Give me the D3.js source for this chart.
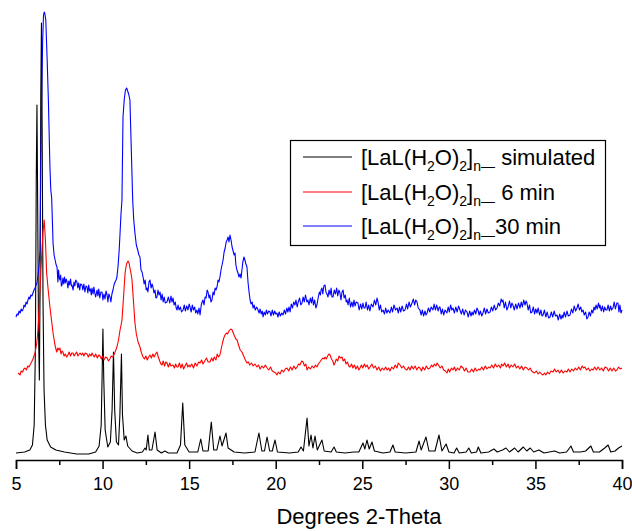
<!DOCTYPE html>
<html>
<head>
<meta charset="utf-8">
<script src="https://cdn.jsdelivr.net/npm/d3@7"></script>
<style>
  html, body { margin: 0; padding: 0; background: #fff; }
  svg { display: block; font-family: "Liberation Sans", Arial, sans-serif; }
</style>
</head>
<body>
<svg id="chart" width="632" height="531"></svg>
<script>
// ---- Data (2-theta in degrees, intensity in arbitrary units) ----
const xTicks = [5, 10, 15, 20, 25, 30, 35, 40];
const xMinorTicks = [7.5, 12.5, 17.5, 22.5, 27.5, 32.5, 37.5];
const xTitle = "Degrees 2-Theta";
const seriesNames = ["simulated", "6 min", "30 min"];
const seriesSuffix = [" simulated", " 6 min", "30 min"];
const seriesColors = ["#000000", "#ff0000", "#0000ff"];

const simulated = [[5.0,7],[5.5,8],[5.8,10],[5.95,15],[6.05,35],[6.12,110],[6.17,280],[6.21,355],[6.25,260],[6.3,130],[6.35,80],[6.39,170],[6.43,360],[6.47,437],[6.51,330],[6.56,160],[6.62,70],[6.7,35],[6.8,20],[7.0,13],[7.3,10],[7.8,8],[8.5,6],[9.2,6],[9.6,8],[9.8,14],[9.92,35],[9.98,90],[10.02,131],[10.07,80],[10.15,30],[10.3,13],[10.45,18],[10.55,50],[10.63,108],[10.7,50],[10.8,18],[10.92,15],[11.0,45],[11.09,106],[11.15,45],[11.25,20],[11.35,24],[11.45,14],[11.7,9],[12.0,7],[12.3,8],[12.45,12],[12.52,10],[12.62,25],[12.7,10],[12.85,10],[13.03,28],[13.15,10],[13.4,7],[13.6,9],[13.8,7],[14.3,7],[14.5,15],[14.63,57],[14.75,15],[15.0,8],[15.5,8],[15.67,21],[15.8,9],[16.1,9],[16.28,38],[16.42,10],[16.6,10],[16.78,24],[16.9,14],[17.13,27],[17.25,12],[17.6,8],[18.2,7],[18.8,8],[19.03,27],[19.2,9],[19.35,9],[19.5,23],[19.65,9],[19.8,9],[19.96,20],[20.1,8],[20.8,7],[21.3,8],[21.46,13],[21.6,9],[21.81,42],[21.92,14],[22.04,25],[22.15,12],[22.27,24],[22.4,10],[22.67,20],[22.8,9],[23.2,8],[23.37,13],[23.5,8],[24.0,7],[24.5,8],[24.8,8],[25.04,17],[25.15,11],[25.27,20],[25.4,11],[25.56,18],[25.7,9],[26.2,7],[26.6,8],[26.77,15],[26.9,8],[27.5,7],[28.1,8],[28.28,19],[28.4,10],[28.68,23],[28.85,9],[29.2,9],[29.43,25],[29.6,9],[29.84,16],[30.0,8],[30.3,7],[30.45,12],[30.6,7],[31.0,8],[31.15,12],[31.3,7],[31.6,8],[31.7,13],[31.85,7],[32.3,8],[32.6,11],[32.8,8],[33.1,10],[33.3,12],[33.5,8],[33.8,12],[34.0,8],[34.3,13],[34.5,9],[34.7,12],[34.9,8],[35.2,10],[35.5,7],[35.8,8],[36.1,9],[36.4,7],[36.8,8],[37.05,14],[37.2,8],[37.6,8],[37.9,9],[38.2,14],[38.35,8],[38.7,8],[39.0,12],[39.2,15],[39.35,8],[39.6,9],[39.8,12],[40.0,14]];

const min6 = [[5.12,87],[5.18,86],[5.23,85],[5.3,89],[5.38,88],[5.45,91],[5.52,92],[5.6,90],[5.68,94],[5.75,93],[5.81,95],[5.9,98],[5.98,101],[6.04,104],[6.1,107],[6.2,117],[6.27,130],[6.33,150],[6.39,172],[6.44,190],[6.5,210],[6.56,228],[6.63,240],[6.7,220],[6.77,187],[6.86,170],[6.96,153],[7.05,140],[7.14,127],[7.25,115],[7.35,108],[7.42,112],[7.48,110],[7.54,112],[7.6,106],[7.66,109],[7.71,108],[7.78,104],[7.85,106],[7.93,103],[8.0,105],[8.07,108],[8.15,104],[8.22,107],[8.29,107],[8.36,104],[8.43,106],[8.5,108],[8.58,104],[8.65,106],[8.7,107],[8.78,105],[8.85,107],[8.92,104],[9.0,107],[9.1,106],[9.18,103],[9.25,106],[9.33,104],[9.39,107],[9.45,105],[9.52,103],[9.6,106],[9.7,102],[9.78,105],[9.85,104],[9.93,101],[10.0,104],[10.08,100],[10.17,103],[10.26,102],[10.34,99],[10.42,101],[10.5,104],[10.6,103],[10.7,107],[10.83,113],[10.92,120],[11.01,130],[11.08,136],[11.12,140],[11.2,160],[11.3,187],[11.38,196],[11.47,199],[11.53,197],[11.58,192],[11.64,187],[11.7,180],[11.78,160],[11.87,137],[11.95,126],[12.05,118],[12.16,113],[12.25,107],[12.34,103],[12.42,101],[12.5,104],[12.58,100],[12.66,103],[12.74,105],[12.82,102],[12.9,106],[12.98,103],[13.06,106],[13.14,108],[13.22,103],[13.3,99],[13.37,96],[13.43,95],[13.5,99],[13.58,94],[13.65,98],[13.72,97],[13.8,93],[13.88,97],[13.95,94],[14.07,95],[14.15,92],[14.22,96],[14.3,93],[14.36,93],[14.44,97],[14.52,92],[14.6,96],[14.68,91],[14.76,94],[14.85,97],[14.92,93],[15.0,95],[15.05,93],[15.15,96],[15.25,92],[15.35,97],[15.45,94],[15.55,98],[15.63,97],[15.72,100],[15.8,96],[15.9,99],[16.0,102],[16.1,98],[16.2,98],[16.3,102],[16.38,99],[16.45,103],[16.55,100],[16.62,106],[16.7,103],[16.78,105],[16.86,112],[16.94,118],[17.0,122],[17.07,125],[17.15,127],[17.22,126],[17.3,129],[17.4,131],[17.48,130],[17.55,127],[17.62,124],[17.7,121],[17.77,120],[17.85,115],[17.95,110],[18.05,108],[18.15,104],[18.25,100],[18.34,97],[18.42,98],[18.5,95],[18.6,97],[18.7,94],[18.8,96],[18.92,93],[19.0,95],[19.1,91],[19.2,94],[19.3,92],[19.4,95],[19.5,92],[19.6,90],[19.7,93],[19.8,89],[19.9,88],[20.0,87],[20.07,85],[20.15,88],[20.25,86],[20.35,90],[20.45,88],[20.55,91],[20.65,92],[20.75,89],[20.85,93],[20.95,90],[21.05,94],[21.15,91],[21.23,93],[21.32,96],[21.4,95],[21.5,99],[21.58,98],[21.66,94],[21.74,96],[21.81,90],[21.9,93],[22.0,91],[22.1,94],[22.2,92],[22.3,95],[22.38,93],[22.46,96],[22.55,98],[22.63,100],[22.72,102],[22.8,101],[22.85,103],[22.92,101],[23.0,104],[23.07,106],[23.14,105],[23.22,101],[23.3,99],[23.36,95],[23.42,97],[23.5,101],[23.58,99],[23.66,104],[23.74,102],[23.83,103],[23.9,99],[23.98,101],[24.06,96],[24.14,98],[24.22,94],[24.29,93],[24.38,96],[24.46,92],[24.55,95],[24.63,91],[24.72,94],[24.8,90],[24.87,92],[24.95,95],[25.03,92],[25.12,96],[25.2,93],[25.28,95],[25.37,91],[25.45,93],[25.55,96],[25.65,92],[25.75,94],[25.85,90],[25.95,93],[26.05,89],[26.15,92],[26.25,90],[26.35,93],[26.43,90],[26.52,92],[26.6,89],[26.7,93],[26.8,91],[26.9,95],[27.0,92],[27.08,97],[27.18,95],[27.28,92],[27.38,94],[27.48,91],[27.58,90],[27.67,93],[27.76,90],[27.85,94],[27.95,91],[28.05,94],[28.15,90],[28.25,93],[28.33,92],[28.42,89],[28.5,93],[28.6,90],[28.7,94],[28.8,91],[28.91,92],[29.0,95],[29.08,93],[29.16,96],[29.25,94],[29.32,97],[29.4,95],[29.5,92],[29.6,94],[29.7,90],[29.8,89],[29.89,87],[29.97,91],[30.05,88],[30.15,92],[30.24,90],[30.32,93],[30.4,89],[30.5,92],[30.6,90],[30.7,94],[30.82,92],[30.9,89],[31.0,92],[31.1,88],[31.22,88],[31.32,91],[31.42,88],[31.52,92],[31.62,89],[31.72,91],[31.8,90],[31.9,93],[32.0,90],[32.1,94],[32.2,91],[32.3,93],[32.38,92],[32.48,95],[32.58,92],[32.68,96],[32.78,93],[32.88,95],[32.98,92],[33.05,96],[33.13,94],[33.22,97],[33.32,93],[33.42,96],[33.5,92],[33.6,95],[33.7,93],[33.8,96],[33.9,92],[34.0,94],[34.1,91],[34.2,94],[34.3,90],[34.4,93],[34.51,92],[34.6,90],[34.7,92],[34.78,89],[34.86,88],[34.95,87],[35.05,89],[35.15,86],[35.25,88],[35.35,86],[35.44,85],[35.52,87],[35.6,85],[35.7,88],[35.8,86],[35.9,89],[36.02,88],[36.1,91],[36.2,88],[36.3,90],[36.4,87],[36.5,90],[36.6,87],[36.7,89],[36.82,88],[36.9,91],[37.0,88],[37.1,91],[37.2,89],[37.3,92],[37.4,90],[37.5,93],[37.6,90],[37.7,94],[37.78,92],[37.86,93],[37.95,90],[38.05,92],[38.15,89],[38.25,91],[38.33,90],[38.42,93],[38.52,90],[38.62,93],[38.72,90],[38.82,92],[38.92,89],[39.02,93],[39.13,92],[39.22,89],[39.32,92],[39.42,89],[39.52,92],[39.62,89],[39.71,90],[39.8,93],[39.9,91],[40.0,92]];

const min30 = [[5.0,143],[5.06,146],[5.12,145],[5.18,149],[5.24,147],[5.3,151],[5.36,149],[5.4,150],[5.46,155],[5.52,153],[5.58,158],[5.64,156],[5.69,160],[5.75,163],[5.8,161],[5.86,165],[5.92,164],[5.98,167],[6.04,170],[6.1,172],[6.16,175],[6.21,177],[6.27,185],[6.33,195],[6.39,210],[6.43,293],[6.48,360],[6.54,420],[6.59,445],[6.63,448],[6.67,446],[6.72,440],[6.8,400],[6.87,360],[6.96,293],[7.01,270],[7.06,262],[7.1,240],[7.14,217],[7.2,205],[7.26,200],[7.32,195],[7.37,193],[7.42,178],[7.46,190],[7.5,182],[7.54,180],[7.58,185],[7.62,174],[7.66,175],[7.71,182],[7.76,176],[7.8,183],[7.85,177],[7.9,181],[7.95,178],[8.0,172],[8.05,179],[8.1,175],[8.15,181],[8.2,174],[8.23,175],[8.3,170],[8.35,178],[8.4,174],[8.45,180],[8.52,178],[8.57,172],[8.62,177],[8.68,170],[8.73,176],[8.81,175],[8.86,170],[8.92,176],[8.98,168],[9.04,174],[9.1,173],[9.15,167],[9.2,175],[9.25,169],[9.3,171],[9.35,165],[9.39,172],[9.45,166],[9.5,173],[9.55,167],[9.6,163],[9.68,170],[9.73,164],[9.78,171],[9.84,162],[9.9,168],[9.97,168],[10.02,160],[10.08,166],[10.14,161],[10.2,169],[10.26,165],[10.31,158],[10.36,166],[10.43,163],[10.48,158],[10.54,166],[10.6,170],[10.66,175],[10.72,178],[10.78,180],[10.83,183],[10.9,195],[10.96,210],[11.01,227],[11.06,245],[11.12,260],[11.18,343],[11.25,360],[11.32,370],[11.39,372],[11.45,369],[11.52,365],[11.58,360],[11.66,310],[11.74,260],[11.8,240],[11.87,227],[11.95,215],[12.03,210],[12.1,205],[12.16,203],[12.22,190],[12.28,188],[12.34,183],[12.4,176],[12.46,180],[12.52,170],[12.57,172],[12.62,168],[12.68,178],[12.74,180],[12.8,172],[12.86,176],[12.91,173],[12.97,167],[13.03,170],[13.08,162],[13.14,163],[13.2,170],[13.26,165],[13.32,168],[13.38,160],[13.44,166],[13.5,158],[13.56,163],[13.62,157],[13.72,158],[13.8,163],[13.88,157],[13.95,164],[14.01,158],[14.07,162],[14.13,155],[14.2,158],[14.25,152],[14.3,150],[14.36,155],[14.42,150],[14.5,153],[14.56,148],[14.65,150],[14.72,155],[14.78,149],[14.86,154],[14.93,150],[15.0,156],[15.05,153],[15.12,148],[15.18,155],[15.25,150],[15.32,153],[15.38,147],[15.45,150],[15.5,146],[15.57,152],[15.63,145],[15.7,155],[15.75,158],[15.8,160],[15.86,155],[15.92,163],[15.98,162],[16.04,170],[16.09,168],[16.15,162],[16.2,165],[16.26,158],[16.32,160],[16.38,168],[16.44,165],[16.5,172],[16.55,170],[16.61,173],[16.67,180],[16.72,178],[16.78,183],[16.84,190],[16.9,195],[16.96,200],[17.02,208],[17.08,212],[17.14,218],[17.19,220],[17.25,223],[17.3,218],[17.36,225],[17.42,220],[17.48,213],[17.54,209],[17.6,205],[17.65,207],[17.7,195],[17.76,190],[17.82,187],[17.88,183],[17.94,186],[18.0,182],[18.05,190],[18.1,198],[18.17,203],[18.22,200],[18.28,196],[18.34,193],[18.4,178],[18.46,168],[18.52,160],[18.58,156],[18.64,158],[18.69,152],[18.75,155],[18.82,150],[18.9,153],[18.98,150],[19.04,147],[19.1,151],[19.16,146],[19.22,149],[19.27,143],[19.33,148],[19.4,145],[19.46,150],[19.52,146],[19.6,149],[19.67,148],[19.73,144],[19.8,150],[19.87,145],[19.94,149],[20.0,146],[20.07,147],[20.13,143],[20.2,148],[20.27,144],[20.35,147],[20.42,145],[20.5,150],[20.57,146],[20.64,152],[20.7,148],[20.77,153],[20.83,148],[20.9,156],[20.97,152],[21.04,158],[21.11,155],[21.17,160],[21.24,153],[21.3,158],[21.38,162],[21.45,155],[21.52,157],[21.58,163],[21.65,158],[21.72,165],[21.8,158],[21.86,160],[21.92,155],[22.0,162],[22.06,157],[22.12,163],[22.18,155],[22.25,160],[22.32,152],[22.38,155],[22.45,162],[22.52,168],[22.58,165],[22.62,170],[22.67,172],[22.72,166],[22.78,174],[22.85,175],[22.9,168],[22.96,166],[23.02,163],[23.08,170],[23.14,165],[23.2,172],[23.25,163],[23.31,163],[23.38,170],[23.45,166],[23.52,172],[23.58,164],[23.65,170],[23.71,167],[23.77,160],[23.83,168],[23.89,170],[23.95,162],[24.02,165],[24.07,158],[24.12,160],[24.18,155],[24.25,162],[24.32,153],[24.4,158],[24.46,153],[24.52,160],[24.58,154],[24.65,158],[24.75,157],[24.82,150],[24.9,156],[24.97,151],[25.04,157],[25.1,152],[25.16,152],[25.22,158],[25.3,150],[25.37,155],[25.44,149],[25.52,156],[25.62,153],[25.7,160],[25.78,155],[25.85,162],[25.91,158],[25.98,150],[26.05,155],[26.12,148],[26.2,150],[26.28,146],[26.35,152],[26.42,147],[26.5,150],[26.6,147],[26.68,153],[26.75,148],[26.83,155],[26.92,150],[27.01,152],[27.08,147],[27.15,153],[27.22,148],[27.3,154],[27.38,149],[27.47,150],[27.55,156],[27.62,151],[27.7,158],[27.78,153],[27.87,157],[27.95,161],[28.02,155],[28.09,160],[28.16,158],[28.23,152],[28.33,150],[28.4,145],[28.47,150],[28.54,144],[28.62,149],[28.68,145],[28.74,147],[28.82,152],[28.9,148],[28.98,153],[29.08,150],[29.15,156],[29.22,150],[29.3,155],[29.38,149],[29.45,153],[29.49,153],[29.56,146],[29.63,151],[29.7,145],[29.78,150],[29.89,147],[29.96,153],[30.03,148],[30.1,155],[30.17,150],[30.24,152],[30.32,147],[30.4,153],[30.48,148],[30.56,154],[30.64,150],[30.72,146],[30.8,151],[30.88,145],[30.96,150],[31.05,148],[31.12,143],[31.2,149],[31.28,144],[31.34,148],[31.4,145],[31.48,150],[31.56,146],[31.62,152],[31.68,150],[31.75,145],[31.82,149],[31.9,144],[31.97,147],[32.05,152],[32.12,146],[32.2,151],[32.28,147],[32.38,148],[32.46,153],[32.54,149],[32.62,155],[32.7,150],[32.78,152],[32.86,157],[32.94,154],[33.02,161],[33.08,158],[33.13,160],[33.2,152],[33.27,158],[33.35,150],[33.42,153],[33.5,159],[33.58,152],[33.64,157],[33.7,155],[33.78,150],[33.86,156],[33.94,151],[34.02,157],[34.11,152],[34.18,158],[34.25,153],[34.32,160],[34.4,155],[34.46,159],[34.51,157],[34.58,150],[34.66,155],[34.73,147],[34.8,148],[34.88,153],[34.95,146],[35.02,151],[35.09,147],[35.16,152],[35.24,145],[35.32,150],[35.38,144],[35.44,145],[35.52,150],[35.6,143],[35.68,148],[35.76,142],[35.84,143],[35.92,148],[36.0,143],[36.08,149],[36.16,144],[36.25,145],[36.32,140],[36.4,146],[36.48,141],[36.55,145],[36.59,142],[36.66,148],[36.74,143],[36.82,149],[36.9,144],[37.0,145],[37.08,151],[37.16,147],[37.24,154],[37.32,149],[37.4,152],[37.47,156],[37.54,150],[37.62,153],[37.68,148],[37.75,150],[37.82,145],[37.9,148],[37.97,141],[38.04,143],[38.1,148],[38.18,144],[38.25,150],[38.32,147],[38.38,153],[38.44,150],[38.5,155],[38.57,151],[38.64,157],[38.7,152],[38.73,155],[38.8,149],[38.87,154],[38.94,148],[39.0,153],[39.06,150],[39.13,150],[39.2,155],[39.27,149],[39.34,154],[39.4,150],[39.48,152],[39.55,158],[39.62,151],[39.7,157],[39.77,157],[39.82,148],[39.88,155],[39.94,147],[40.0,150]];

const seriesData = [simulated, min6, min30];

// ---- Layout ----
const svg = d3.select("#chart");
const x = d3.scaleLinear().domain([5, 40]).range([16, 622]);
const y = d3.scaleLinear().domain([0, 450]).range([460, 10]);
const FONT = '"Liberation Sans", Arial, sans-serif';

// ---- Series ----
const line = d3.line().x(d => x(d[0])).y(d => y(d[1]));
seriesData.forEach((data, i) => {
  svg.append("path")
    .datum(data)
    .attr("fill", "none")
    .attr("stroke", seriesColors[i])
    .attr("stroke-width", 1.1)
    .attr("stroke-linejoin", "round")
    .attr("d", line);
});

// ---- X axis ----
const axisY = 460;
const xAxis = d3.axisBottom(x).tickValues(xTicks).tickSize(9).tickPadding(8).tickFormat(d3.format("d"));
const gx = svg.append("g").attr("transform", `translate(0,${axisY})`).call(xAxis);
gx.select(".domain").attr("stroke", "#000").attr("stroke-width", 1.5);
gx.selectAll(".tick line").attr("stroke", "#000").attr("stroke-width", 1.5);
gx.selectAll(".tick text").attr("font-family", FONT).attr("font-size", 18).attr("fill", "#000");
const xMinor = d3.axisBottom(x).tickValues(xMinorTicks).tickSize(5).tickFormat("");
const gxm = svg.append("g").attr("transform", `translate(0,${axisY})`).call(xMinor);
gxm.select(".domain").remove();
gxm.selectAll(".tick line").attr("stroke", "#000").attr("stroke-width", 1.5);

svg.append("text")
  .attr("x", 359).attr("y", 524)
  .attr("text-anchor", "middle")
  .attr("font-family", FONT).attr("font-size", 22)
  .text(xTitle);

// ---- Legend ----
const lg = svg.append("g");
lg.append("rect").attr("x", 290.5).attr("y", 140.5).attr("width", 315).attr("height", 105)
  .attr("fill", "#fff").attr("stroke", "#000").attr("stroke-width", 1.2);
const rowY = [157, 192, 226];
seriesNames.forEach((name, i) => {
  lg.append("line").attr("x1", 303).attr("x2", 352).attr("y1", rowY[i]).attr("y2", rowY[i])
    .attr("stroke", seriesColors[i]).attr("stroke-width", 1.2);
  const t = lg.append("text").attr("x", 361).attr("y", rowY[i] + 8)
    .attr("font-family", FONT).attr("font-size", 22).attr("fill", "#000");
  t.append("tspan").text("[LaL(H");
  t.append("tspan").attr("dy", 6).attr("font-size", 14).text("2");
  t.append("tspan").attr("dy", -6).text("O)");
  t.append("tspan").attr("dy", 6).attr("font-size", 14).text("2");
  t.append("tspan").attr("dy", -6).text("]");
  t.append("tspan").attr("dy", 6).attr("font-size", 14).text("n\u2014");
  t.append("tspan").attr("dy", -6).text(seriesSuffix[i]);
});
</script>
</body>
</html>
